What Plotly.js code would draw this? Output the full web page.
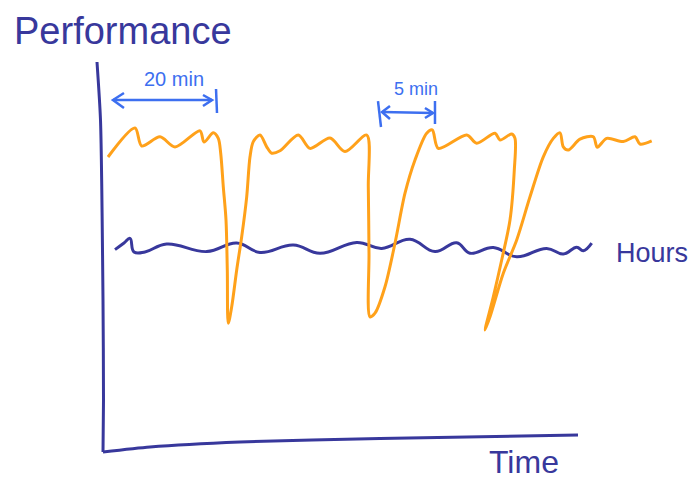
<!DOCTYPE html>
<html>
<head>
<meta charset="utf-8">
<script src="https://cdn.plot.ly/plotly-3.0.1.min.js"></script>
<style>html,body{margin:0;padding:0;background:#fff;}#chart{width:700px;height:479px;}</style>
</head>
<body>
<div id="chart"></div>
<script>
// Time in minutes, performance in arbitrary units (sketch)
const perfTime = [0.6, 6.0, 7.34, 11.0, 14.0, 19.0, 19.8, 21.66, 22.66, 23.14, 23.66, 24.2, 24.46, 24.66,
  25.34, 26.34, 27.34, 28.34, 29.0, 29.66, 31.0, 32.34, 33.34, 35.0, 38.66, 41.0, 45.0, 48.0, 52.34,
  52.66, 52.8, 53.0, 54.0, 56.0, 58.0, 60.0, 62.0, 64.34, 65.46, 66.66, 72.34, 74.34, 78.0, 79.0, 81.34, 82.0,
  81.86, 81.0, 79.34, 77.66, 76.0, 77.0, 79.66, 82.34, 85.0, 87.66, 89.66, 91.0, 91.66, 92.66, 95.0, 97.66,
  98.46, 100.34, 103.66, 106.0, 107.0, 109.34];
const perfValue = [72.75, 80.0, 75.5, 77.8, 75.25, 79.3, 76.5, 78.8, 77.4, 73.7, 65.3, 57.0, 44.5, 31.2,
  35.3, 44.5, 52.8, 62.8, 72.8, 76.6, 78.25, 75.3, 73.7, 74.3, 78.25, 74.9, 77.5, 74.1, 78.25,
  65.3, 48.7, 32.8, 33.7, 40.3, 51.2, 63.7, 72.0, 78.7, 79.5, 74.9, 78.25, 76.2, 78.7, 77.0, 78.5, 77.4,
  69.5, 57.0, 47.0, 37.8, 29.5, 32.8, 43.7, 52.0, 62.8, 72.8, 77.4, 78.8, 75.3, 74.5, 77.2, 77.8,
  75.2, 77.4, 76.6, 77.8, 76.0, 76.8];

const hoursTime = [2.0, 3.8, 5.0, 5.8, 8.0, 12.34, 20.34, 26.34, 31.0, 37.66, 43.0, 50.34, 55.34,
  61.0, 66.0, 70.34, 73.0, 77.66, 82.34, 88.34, 91.66, 94.34, 95.66, 97.34];
const hoursValue = [49.6, 51.25, 52.4, 49.0, 49.0, 51.0, 49.1, 51.25, 48.9, 50.75, 48.7, 51.4, 49.9,
  52.2, 49.1, 51.3, 48.7, 50.1, 47.8, 49.9, 48.5, 50.2, 49.3, 51.2];

// Hand-drawn axes
const yAxisTime = [-1.6, -0.9, -0.4, -0.3, -0.4];
const yAxisValue = [96.5, 82, 37, 12, -1.0];
const xAxisTime = [-0.4, 9.0, 27.0, 55.0, 94.6];
const xAxisValue = [-1.0, 0.25, 1.5, 2.4, 3.25];

const labels = {title: 'Performance', xLabel: 'Time', series: 'Hours', long: '20 min', short: '5 min'};

const INK = '#38389c';
const ORANGE = '#ffa11a';
const BLUE = '#3d6ff0';

const W = 700, H = 479;
const P = (x, y) => (x / W).toFixed(4) + ',' + (1 - y / H).toFixed(4);
function path(pts) { return 'M' + pts.map(p => P(p[0], p[1])).join(' L'); }

const traces = [
  {x: yAxisTime, y: yAxisValue, mode: 'lines', line: {color: INK, width: 3, shape: 'spline', smoothing: 0.6}, hoverinfo: 'skip'},
  {x: xAxisTime, y: xAxisValue, mode: 'lines', line: {color: INK, width: 3, shape: 'spline', smoothing: 0.6}, hoverinfo: 'skip'},
  {x: hoursTime, y: hoursValue, mode: 'lines', name: labels.series, line: {color: INK, width: 3, shape: 'spline', smoothing: 1.2}},
  {x: perfTime, y: perfValue, mode: 'lines', name: 'Performance', line: {color: ORANGE, width: 3, shape: 'spline', smoothing: 0.85}}
];

const blueLine = {color: BLUE, width: 2.5};
const shapes = [
  // 20 min arrow
  {type: 'path', xref: 'paper', yref: 'paper', path: path([[113, 100], [212, 100]]), line: blueLine},
  {type: 'path', xref: 'paper', yref: 'paper', path: path([[124, 93], [113, 100], [124, 108]]), line: blueLine},
  {type: 'path', xref: 'paper', yref: 'paper', path: path([[203, 95], [212, 100], [203, 106]]), line: blueLine},
  {type: 'path', xref: 'paper', yref: 'paper', path: path([[216, 89], [217, 113]]), line: blueLine},
  // 5 min arrow
  {type: 'path', xref: 'paper', yref: 'paper', path: path([[378, 101], [381, 127]]), line: blueLine},
  {type: 'path', xref: 'paper', yref: 'paper', path: path([[435, 101], [435, 124]]), line: blueLine},
  {type: 'path', xref: 'paper', yref: 'paper', path: path([[382, 112], [433, 113]]), line: blueLine},
  {type: 'path', xref: 'paper', yref: 'paper', path: path([[390, 106], [382, 112], [390, 119]]), line: blueLine},
  {type: 'path', xref: 'paper', yref: 'paper', path: path([[425, 108], [433, 113], [425, 118]]), line: blueLine}
];

const A = (text, x, y, size, color) => ({
  text: text, xref: 'paper', yref: 'paper', x: x / W, y: 1 - y / H,
  xanchor: 'center', yanchor: 'middle', showarrow: false,
  font: {family: 'Liberation Sans, Arial, sans-serif', size: size, color: color}
});

const layout = {
  width: W, height: H,
  margin: {l: 0, r: 0, t: 0, b: 0},
  paper_bgcolor: '#ffffff', plot_bgcolor: '#ffffff',
  showlegend: false,
  xaxis: {range: [-21, 119], visible: false, showgrid: false, zeroline: false, fixedrange: true},
  yaxis: {range: [-7.75, 112], visible: false, showgrid: false, zeroline: false, fixedrange: true},
  shapes: shapes,
  annotations: [
    A(labels.title, 123, 31, 38, INK),
    A(labels.xLabel, 524, 462, 32, INK),
    A(labels.series, 652, 253, 27, INK),
    A(labels.long, 174, 79, 20, BLUE),
    A(labels.short, 416, 89, 18, BLUE)
  ]
};

Plotly.newPlot('chart', traces, layout, {staticPlot: true, displayModeBar: false});
</script>
</body>
</html>
